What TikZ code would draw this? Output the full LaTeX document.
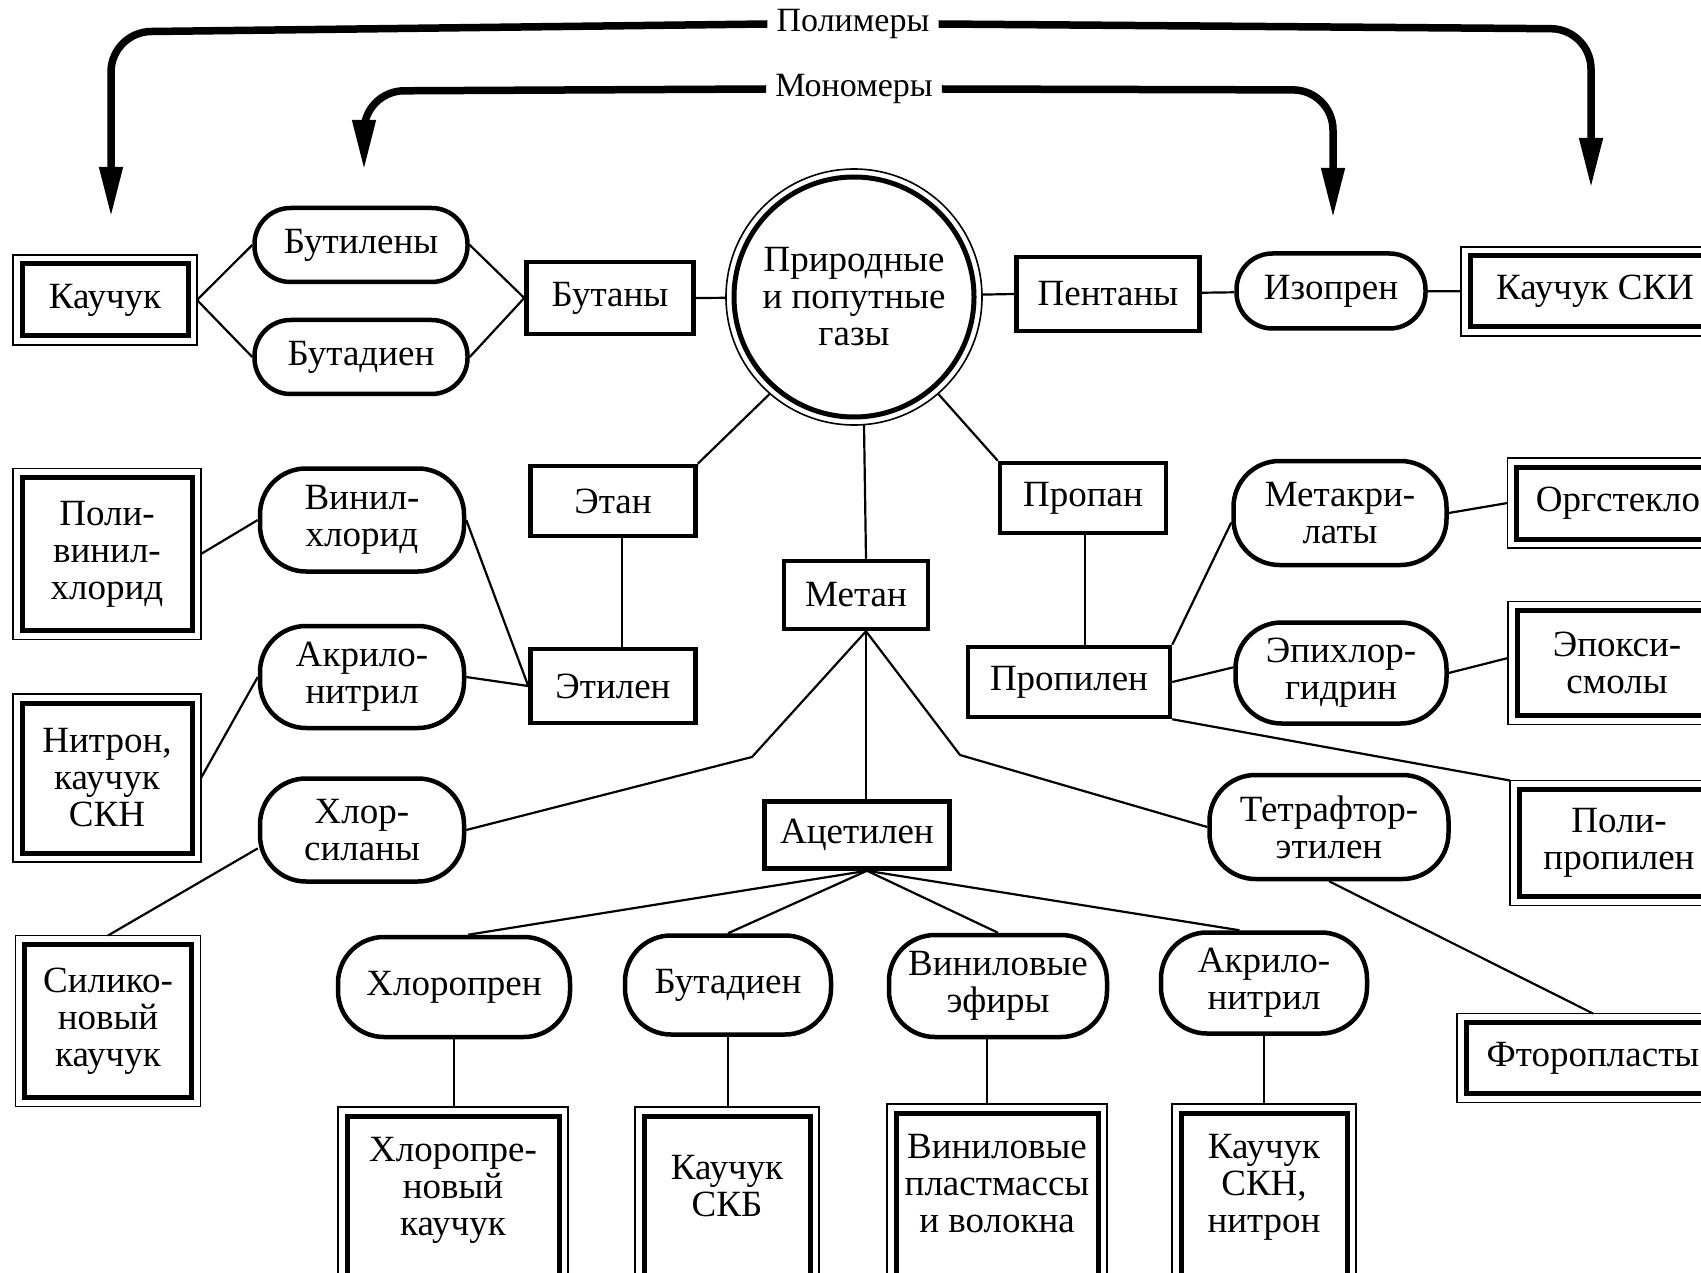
\documentclass[tikz,border=0pt]{standalone}
\usepackage{fontspec}
\setmainfont{Liberation Serif}
\usetikzlibrary{arrows.meta,calc}
\newcommand{\lastpad}{\\\mbox{}}
\begin{document}
\begin{tikzpicture}[x=1pt,y=-1pt,
  every node/.style={font=\fontsize{37}{37}\selectfont, align=center, inner sep=0pt},
  tbox/.style={draw, line width=4.5pt, rectangle},
  dbox/.style={draw, line width=5pt, rectangle, outer sep=9pt},
  oval/.style={draw, line width=4.5pt, rectangle, rounded corners=36pt},
  bigoval/.style={draw, line width=4.5pt, rectangle, rounded corners=46pt},
  conn/.style={line width=2.2pt},
  bigarrow/.style={line width=7.5pt, rounded corners=40pt, -{Triangle[length=50pt,width=22pt]}},
  frame/.style={line width=1.6pt},
  toplabel/.style={font=\fontsize{34}{34}\selectfont, inner xsep=9pt}
]
\useasboundingbox (0,0) rectangle (1701,1273);
\fill[white] (0,0) rectangle (1701,1273);
\clip (0,0) rectangle (1701,1273);

% central circle
\node[circle, draw, line width=5pt, minimum size=240pt, outer sep=8pt] (gas) at (854,297) {Природные\\и попутные\\газы};
\draw[frame] (gas.center) circle[radius=128pt];

% plain boxes
\node[tbox, minimum width=167pt, minimum height=72pt] (butany) at (610,298) {Бутаны};
\node[tbox, minimum width=183pt, minimum height=74pt] (pentany) at (1108,294) {Пентаны};
\node[tbox, minimum width=165pt, minimum height=70pt] (etan) at (613,501) {Этан};
\node[tbox, minimum width=165pt, minimum height=74pt] (etilen) at (613,686) {Этилен};
\node[tbox, minimum width=144pt, minimum height=68pt] (metan) at (856,595) {Метан};
\node[tbox, minimum width=166pt, minimum height=70pt] (propan) at (1083,498) {Пропан};
\node[tbox, minimum width=202pt, minimum height=70pt] (propilen) at (1069,682) {Пропилен};
\node[tbox, minimum width=185pt, minimum height=67pt] (acetilen) at (857,835) {Ацетилен};

% product boxes (double frame)
\node[dbox, minimum width=166pt, minimum height=72pt] (kauchuk) at (105,300) {Каучук};
\node[dbox, minimum width=250pt, minimum height=71pt] (ski) at (1595,291.5) {Каучук СКИ};
\node[dbox, minimum width=170pt, minimum height=153pt] (pvc) at (107,554) {Поли-\\винил-\\хлорид};
\node[dbox, minimum width=170pt, minimum height=150pt] (nitron) at (107,778) {Нитрон,\\каучук\\СКН};
\node[dbox, minimum width=167pt, minimum height=153pt] (silikon) at (108,1021) {Силико-\\новый\\каучук};
\node[dbox, minimum width=203pt, minimum height=72pt] (orgsteklo) at (1618,503) {Оргстекло};
\node[dbox, minimum width=200pt, minimum height=105pt] (epoksi) at (1617,663) {Эпокси-\\смолы};
\node[dbox, minimum width=200pt, minimum height=107pt] (polipropilen) at (1619,843) {Поли-\\пропилен};
\node[dbox, minimum width=254pt, minimum height=71pt] (ftoroplasty) at (1593,1058) {Фторопласты};
\node[dbox, minimum width=212pt, minimum height=177pt] (chlrub) at (453,1204.5) {Хлоропре-\\новый\\каучук\lastpad};
\node[dbox, minimum width=166pt, minimum height=177pt] (skb) at (727,1204.5) {Каучук\\СКБ\lastpad};
\node[dbox, minimum width=202pt, minimum height=177pt] (vinplast) at (997,1201.5) {Виниловые\\пластмассы\\и волокна\lastpad};
\node[dbox, minimum width=166pt, minimum height=177pt] (sknnitron) at (1264,1201.5) {Каучук\\СКН,\\нитрон\lastpad};
\foreach \n in {kauchuk,ski,pvc,nitron,silikon,orgsteklo,epoksi,polipropilen,ftoroplasty,chlrub,skb,vinplast,sknnitron}
  \draw[frame] (\n.north west) rectangle (\n.south east);

% monomers (ovals)
\node[oval, minimum width=213pt, minimum height=74pt] (butileny) at (361,245) {Бутилены};
\node[oval, minimum width=213pt, minimum height=74pt] (butadien1) at (361,357) {Бутадиен};
\node[oval, minimum width=189pt, minimum height=75pt] (izopren) at (1331,291) {Изопрен};
\node[bigoval, minimum width=204pt, minimum height=103pt] (vinylchl) at (362,520) {Винил-\\хлорид};
\node[bigoval, minimum width=204pt, minimum height=102pt] (akrilo1) at (362,677) {Акрило-\\нитрил};
\node[bigoval, minimum width=204pt, minimum height=103pt] (chlorsil) at (362,830) {Хлор-\\силаны};
\node[bigoval, minimum width=213pt, minimum height=104pt] (metakril) at (1340,513) {Метакри-\\латы};
\node[bigoval, minimum width=211pt, minimum height=101pt] (epichlor) at (1341,673) {Эпихлор-\\гидрин};
\node[bigoval, minimum width=239pt, minimum height=104pt] (tetraftor) at (1329,827) {Тетрафтор-\\этилен};
\node[bigoval, minimum width=232pt, minimum height=100pt] (chloropren) at (454,987) {Хлоропрен};
\node[bigoval, minimum width=206pt, minimum height=99pt] (butadien2) at (728,985) {Бутадиен};
\node[bigoval, minimum width=218pt, minimum height=102pt] (vinylethers) at (998,986) {Виниловые\\эфиры};
\node[bigoval, minimum width=206pt, minimum height=101pt] (akrilo2) at (1264,983) {Акрило-\\нитрил};

% top labels and big arrows
\node[toplabel] (poly) at (853,24) {Полимеры};
\node[toplabel] (mono) at (854,89) {Мономеры};
\coordinate (pA) at (111,32);   \coordinate (tipA) at (111,217);
\coordinate (pB) at (1591,29);  \coordinate (tipB) at (1591,188);
\coordinate (mA) at (364,91);   \coordinate (tipC) at (364,170);
\coordinate (mB) at (1333,90);  \coordinate (tipD) at (1333,218);
\draw[bigarrow] (poly.west) -- (pA) -- (tipA);
\draw[bigarrow] (poly.east) -- (pB) -- (tipB);
\draw[bigarrow] (mono.west) -- (mA) -- (tipC);
\draw[bigarrow] (mono.east) -- (mB) -- (tipD);

% connectors
\draw[conn] (kauchuk.east) -- (butileny.west);
\draw[conn] (kauchuk.east) -- (butadien1.west);
\draw[conn] (butileny.east) -- (butany.west);
\draw[conn] (butadien1.east) -- (butany.west);
\draw[conn] (butany.east) -- (gas);
\draw[conn] (pentany.west) -- (gas);
\draw[conn] (pentany) -- (izopren);
\draw[conn] (izopren) -- (ski);
\draw[conn] (gas.229) -- (etan.north east);
\draw[conn] (gas.311) -- (propan.north west);
\draw[conn] ([xshift=10pt]metan.north) -- ([xshift=10pt,yshift=-127.6pt]gas.center);
\draw[conn] ([xshift=9pt]etan.south) -- ([xshift=9pt]etilen.north);
\draw[conn] ([xshift=2pt]propan.south) -- ([xshift=2pt]propan.south |- propilen.north);
\draw[conn] (pvc.east) -- (vinylchl.west);
\draw[conn] (vinylchl.east) -- (etilen.west);
\draw[conn] (akrilo1.east) -- (etilen.west);
\draw[conn] (nitron.east) -- (akrilo1.west);
\draw[conn] (chlorsil.190) -- (silikon.north);

\coordinate (mb) at ([xshift=10pt]metan.south);
\coordinate (bendL) at (752,757);
\coordinate (bendR) at (960,755);
\draw[conn] (mb) -- (bendL) -- (chlorsil.east);
\draw[conn] (mb) -- (bendR) -- (tetraftor.west);
\draw[conn] (mb) -- (mb |- acetilen.north);

\coordinate (ab) at ([xshift=10pt]acetilen.south);
\draw[conn] (ab) -- (chloropren.75);
\draw[conn] (ab) -- (butadien2.north);
\draw[conn] (ab) -- (vinylethers.north);
\draw[conn] (ab) -- (akrilo2.115);

\draw[conn] (chloropren.south) -- (chloropren.south |- chlrub.north);
\draw[conn] (butadien2.south) -- (butadien2.south |- skb.north);
\draw[conn] ([xshift=-11pt]vinylethers.south) -- ([xshift=-11pt]vinylethers.south |- vinplast.north);
\draw[conn] (akrilo2.south) -- (akrilo2.south |- sknnitron.north);

\draw[conn] (propilen.north east) -- (metakril.185);
\draw[conn] (propilen.east) -- (epichlor.177);
\draw[conn] (propilen.south east) -- (polipropilen.north west);
\draw[conn] (metakril.east) -- (orgsteklo.west);
\draw[conn] (epichlor.east) -- ([yshift=5pt]epoksi.west);
\draw[conn] (tetraftor.south) -- (ftoroplasty.north);
\end{tikzpicture}
\end{document}
